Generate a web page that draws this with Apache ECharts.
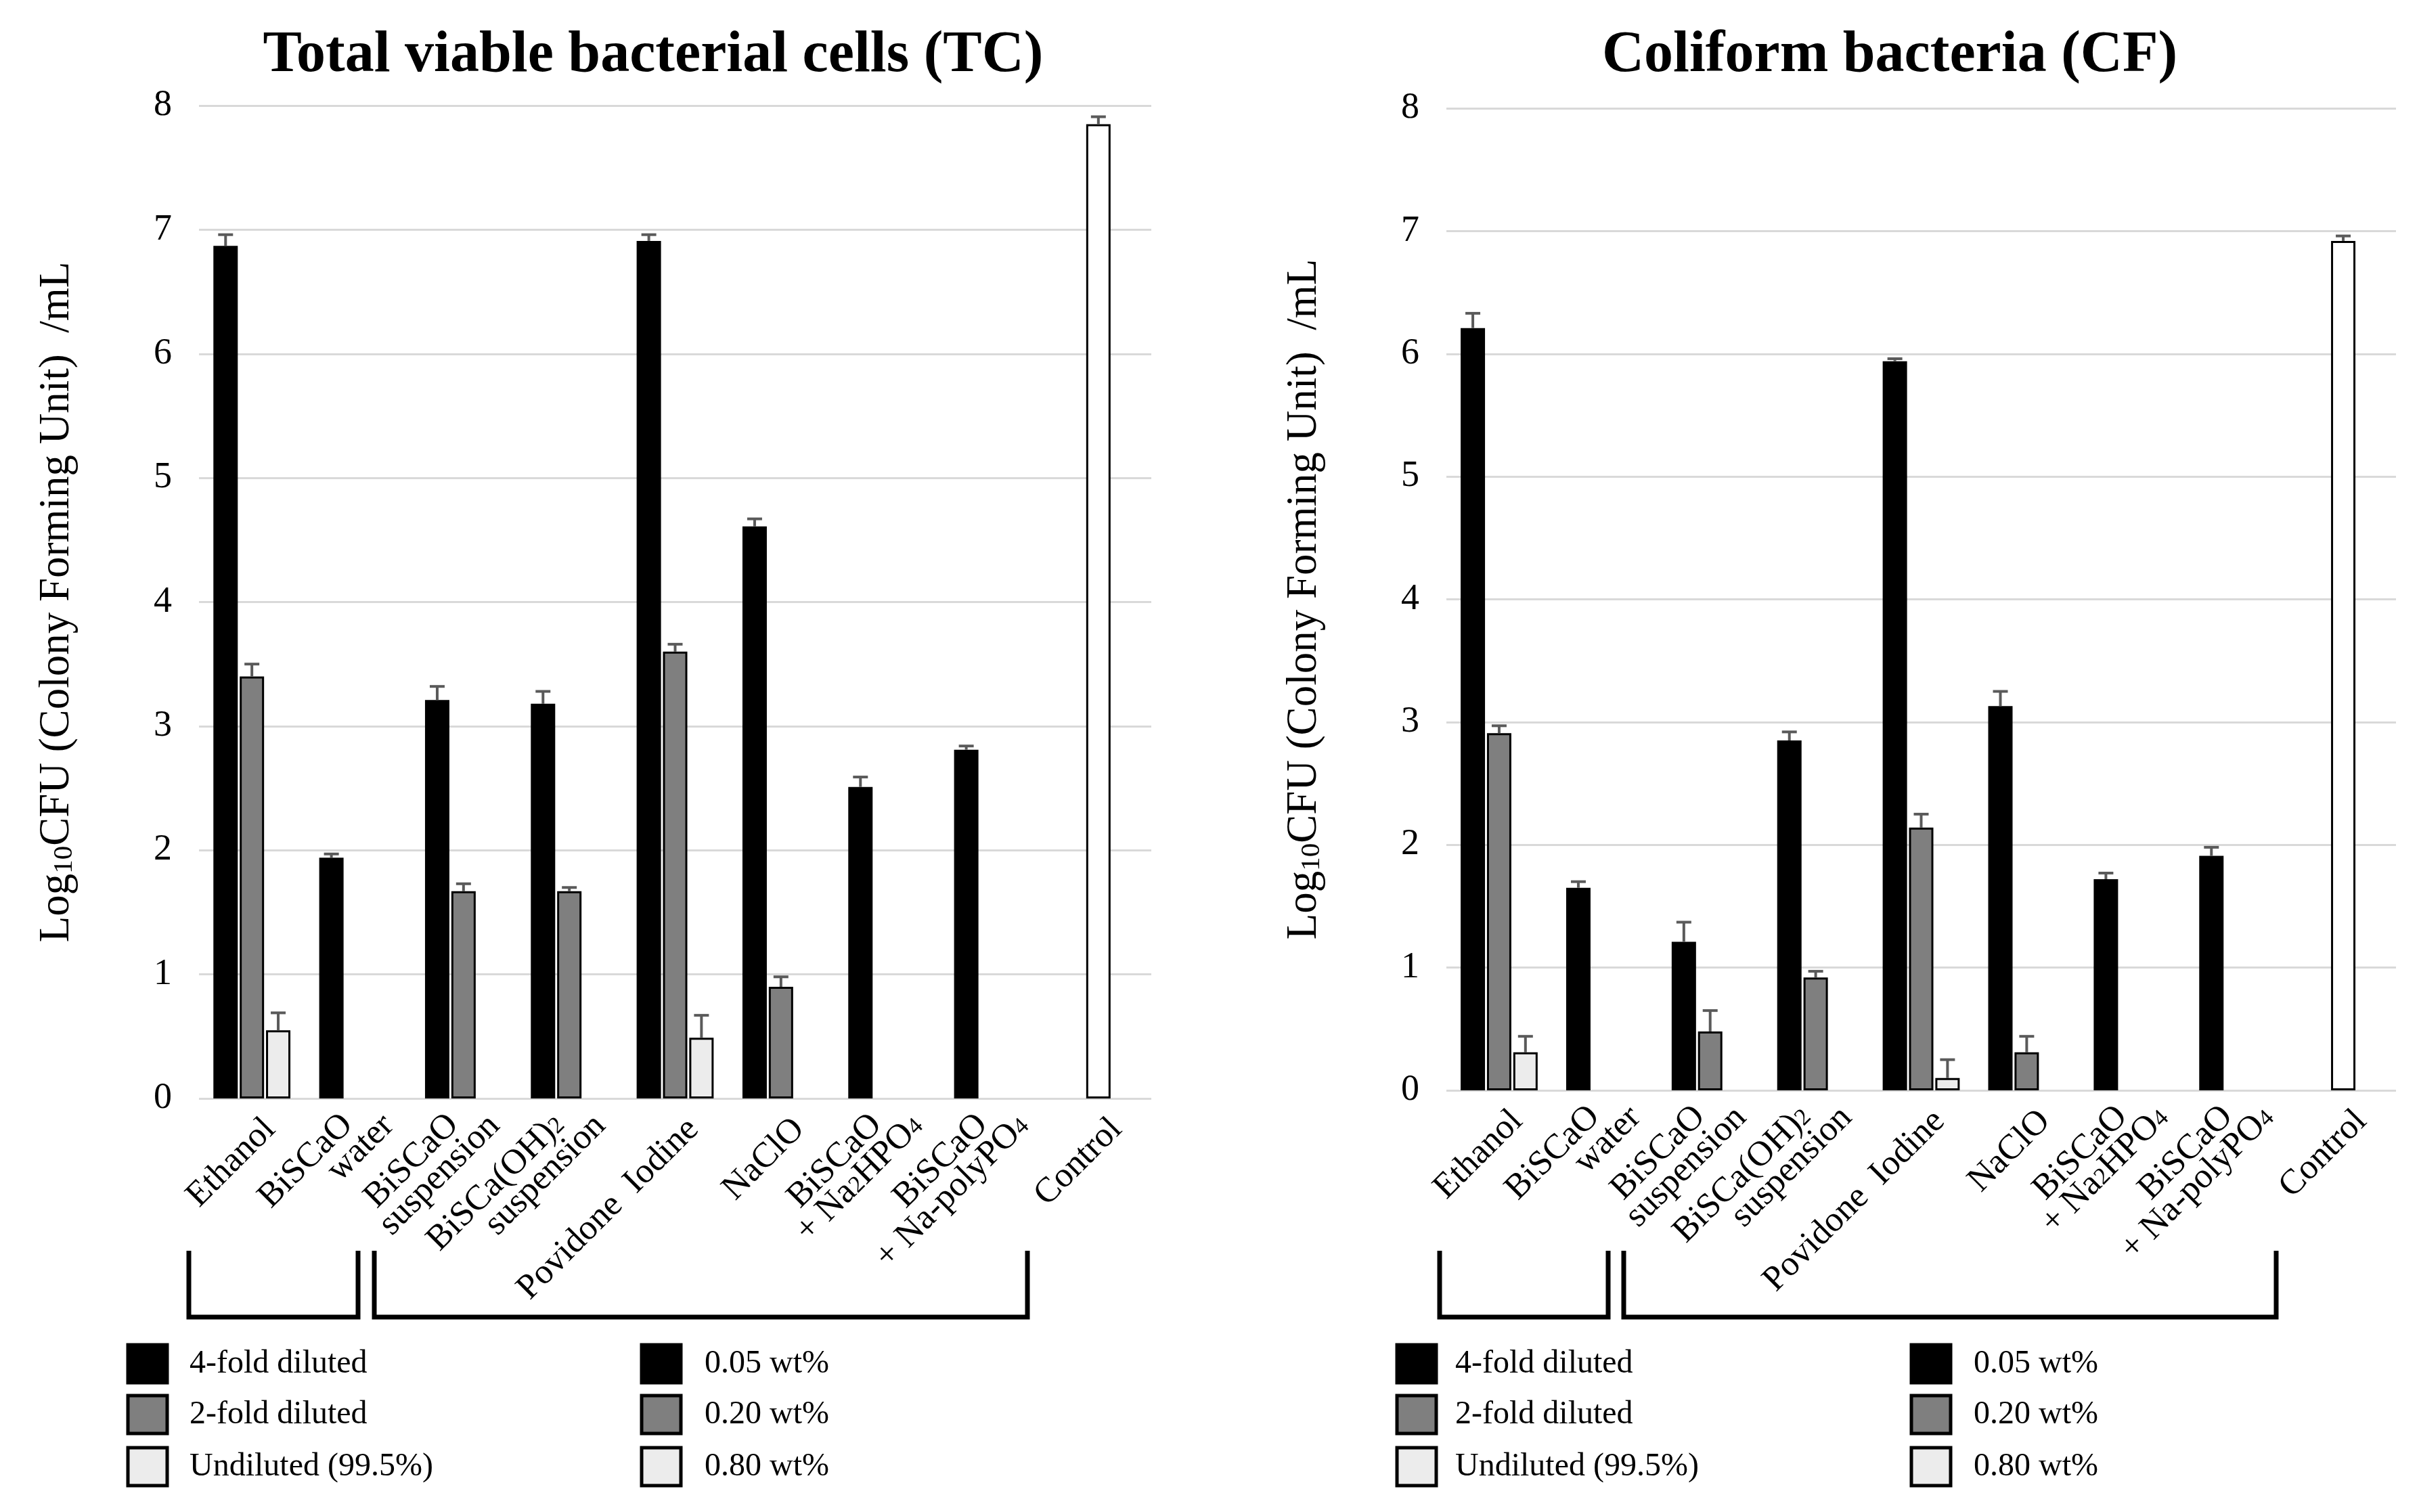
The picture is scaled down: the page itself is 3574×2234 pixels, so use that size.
<!DOCTYPE html>
<html>
<head>
<meta charset="utf-8">
<script src="https://cdn.jsdelivr.net/npm/echarts@6/dist/echarts.min.js"></script>
<style>
html,body{margin:0;padding:0;background:#fff;}
#chart{width:3574px;height:2234px;}
</style>
</head>
<body>
<div id="chart"></div>
<script>
// ---------- DATA ----------
const categories = ['Ethanol','BiSCaO\nwater','BiSCaO\nsuspension','BiSCa(OH)₂\nsuspension','Povidone  Iodine','NaClO','BiSCaO\n+ Na₂HPO₄','BiSCaO\n+ Na-polyPO₄','Control'];
const yTicks = [0,1,2,3,4,5,6,7,8];

// Total viable bacterial cells (TC)
const tc4 =     [6.87, 1.94, 3.21, 3.18, 6.91, 4.61, 2.51, 2.81, null];
const tc4Err =  [0.09, 0.03, 0.11, 0.10, 0.05, 0.06, 0.08, 0.03, null];
const tc2 =     [3.40, null, 1.67, 1.67, 3.60, 0.90, null, null, null];
const tc2Err =  [0.10, null, 0.06, 0.03, 0.06, 0.08, null, null, null];
const tc1 =     [0.55, null, null, null, 0.49, null, null, null, null];
const tc1Err =  [0.14, null, null, null, 0.18, null, null, null, null];
const tcCtrl =  [null, null, null, null, null, null, null, null, 7.85];
const tcCtrlErr=[null, null, null, null, null, null, null, null, 0.06];

// Coliform bacteria (CF)
const cf4 =     [6.21, 1.65, 1.21, 2.85, 5.94, 3.13, 1.72, 1.91, null];
const cf4Err =  [0.12, 0.05, 0.16, 0.07, 0.02, 0.12, 0.05, 0.07, null];
const cf2 =     [2.91, null, 0.48, 0.92, 2.14, 0.31, null, null, null];
const cf2Err =  [0.06, null, 0.17, 0.05, 0.11, 0.13, null, null, null];
const cf1 =     [0.31, null, null, null, 0.10, null, null, null, null];
const cf1Err =  [0.13, null, null, null, 0.15, null, null, null, null];
const cfCtrl =  [null, null, null, null, null, null, null, null, 6.92];
const cfCtrlErr=[null, null, null, null, null, null, null, null, 0.04];

const titles = ['Total viable bacterial cells (TC)', 'Coliform bacteria (CF)'];
const yName = 'Log{s|10}CFU (Colony Forming Unit)  /mL';
const dilutionLabels = ['4-fold diluted', '2-fold diluted', 'Undiluted (99.5%)'];
const concLabels = ['0.05 wt%', '0.20 wt%', '0.80 wt%'];

// ---------- STYLE ----------
const FONT = "'Liberation Serif','Times New Roman',serif";
const FILLS = ['#000000', '#7f7f7f', '#ececec'];
const BW = 36, GAP_PCT = 0.08, GAP = BW * GAP_PCT, CAP = 11;
const ERR_COLOR = '#5a5a5a';
const XL_FONT = 52, XL_LH = 44;

const chart = echarts.init(document.getElementById('chart'), null, {renderer: 'canvas'});

const grids = [
  {left: 294, right: 3574 - 1701, top: 156, bottom: 2234 - 1623},
  {left: 2137, right: 3574 - 3540, top: 160, bottom: 2234 - 1611}
];

function subs(str) {
  return str.replace(/([₀-₉]+)/g, function (m) {
    const d = m.split('').map(c => String.fromCharCode(c.charCodeAt(0) - 0x2080 + 48)).join('');
    return '{s|' + d + '}';
  });
}
function labelFmt(v) {
  const lines = v.split('\n');
  if (lines.length === 1) return subs(v) + '{q| }';
  return subs(lines[0]) + '{p| }\n' + subs(lines[1]) + '\n{e| }';
}

const xAxes = [], yAxes = [], series = [];
[0, 1].forEach(function (g) {
  xAxes.push({
    type: 'category', gridIndex: g, data: categories,
    axisLine: {show: false}, axisTick: {show: false},
    axisLabel: {
      interval: 0, rotate: 45, margin: -13, color: '#000',
      fontFamily: FONT, fontSize: XL_FONT, lineHeight: XL_LH,
      padding: [110, 0, 0, 0],
      formatter: labelFmt,
      rich: {
        s: {fontFamily: FONT, fontSize: 35, verticalAlign: 'bottom', color: '#000', lineHeight: XL_LH},
        p: {fontFamily: FONT, fontSize: XL_FONT, width: 42, lineHeight: XL_LH},
        q: {fontFamily: FONT, fontSize: XL_FONT, width: 17, lineHeight: XL_LH},
        e: {fontFamily: FONT, fontSize: 10, lineHeight: 25}
      }
    }
  });
  xAxes.push({type: 'category', gridIndex: g, data: categories, show: false});
  yAxes.push({
    type: 'value', gridIndex: g, min: 0, max: 8, interval: 1,
    axisLine: {show: false}, axisTick: {show: false},
    splitLine: {show: true, lineStyle: {color: '#d9d9d9', width: 3}},
    axisLabel: {color: '#000', fontFamily: FONT, fontSize: 54, margin: 40,
      formatter: function (v) { return yTicks.indexOf(v) >= 0 ? String(v) : ''; }},
    name: yName, nameLocation: 'middle', nameRotate: 90, nameGap: 178,
    nameTextStyle: {color: '#000', fontFamily: FONT, fontSize: 63,
      rich: {s: {fontFamily: FONT, fontSize: 41, verticalAlign: 'bottom', color: '#000'}}}
  });
});

function barSeries(xi, yi, data, fill) {
  return {
    type: 'bar', xAxisIndex: xi, yAxisIndex: yi, data: data,
    barWidth: BW, barGap: (GAP_PCT * 100) + '%',
    itemStyle: {color: fill, borderColor: '#000', borderWidth: 3},
    z: 2
  };
}
function errSeries(xi, yi, vals, errs, slot) {
  const data = [];
  vals.forEach(function (v, i) { if (v != null && errs[i] != null) data.push([i, v, errs[i]]); });
  return {
    type: 'custom', xAxisIndex: xi, yAxisIndex: yi, data: data, z: 5,
    encode: {x: 0, y: 1},
    renderItem: function (params, api) {
      const i = api.value(0), v = api.value(1), e = api.value(2);
      const p0 = api.coord([i, v]);
      const p1 = api.coord([i, v + e]);
      const cx = p0[0] + slot * (BW + GAP);
      return {type: 'group', children: [
        {type: 'line', shape: {x1: cx, y1: p0[1], x2: cx, y2: p1[1]}, style: {stroke: ERR_COLOR, lineWidth: 4}},
        {type: 'line', shape: {x1: cx - CAP, y1: p1[1], x2: cx + CAP, y2: p1[1]}, style: {stroke: ERR_COLOR, lineWidth: 4}}
      ]};
    }
  };
}

const sets = [
  {v: [tc4, tc2, tc1], e: [tc4Err, tc2Err, tc1Err], c: tcCtrl, ce: tcCtrlErr},
  {v: [cf4, cf2, cf1], e: [cf4Err, cf2Err, cf1Err], c: cfCtrl, ce: cfCtrlErr}
];
sets.forEach(function (s, g) {
  const xi = g * 2, xc = g * 2 + 1;
  s.v.forEach(function (arr, k) { series.push(barSeries(xi, g, arr, FILLS[k])); });
  series.push(barSeries(xc, g, s.c, '#ffffff'));
  s.v.forEach(function (arr, k) { series.push(errSeries(xi, g, arr, s.e[k], k - 1)); });
  series.push(errSeries(xc, g, s.c, s.ce, 0));
});

// ---------- GRAPHICS: titles, brackets, legends ----------
const graphic = [];
const titleX = [965, 2792];
titles.forEach(function (t, g) {
  graphic.push({type: 'text', x: titleX[g], y: 83, style: {
    text: t, font: 'bold 86px ' + FONT, fill: '#000', textAlign: 'center', textVerticalAlign: 'middle'}});
});
function bracket(x1, x2) {
  graphic.push({type: 'polyline', shape: {points: [[x1, 1848], [x1, 1946], [x2, 1946], [x2, 1848]]},
    style: {stroke: '#000', lineWidth: 7, fill: null}});
}
bracket(279, 529); bracket(553, 1518);
bracket(2127, 2376); bracket(2399, 3363);

const legendRows = [1987, 2062, 2139];
function legendCol(sqX, txtX, labels) {
  labels.forEach(function (lab, k) {
    graphic.push({type: 'rect', shape: {x: sqX, y: legendRows[k], width: 58, height: 56},
      style: {fill: FILLS[k], stroke: '#000', lineWidth: 5}});
    graphic.push({type: 'text', x: txtX, y: legendRows[k] + 28, style: {
      text: lab, font: '48px ' + FONT, fill: '#000', textVerticalAlign: 'middle'}});
  });
}
legendCol(189, 280, dilutionLabels);
legendCol(948, 1041, concLabels);
legendCol(2064, 2150, dilutionLabels);
legendCol(2824, 2916, concLabels);

chart.setOption({
  backgroundColor: '#ffffff',
  animation: false,
  grid: grids,
  xAxis: xAxes,
  yAxis: yAxes,
  series: series,
  graphic: graphic
});
</script>
</body>
</html>
